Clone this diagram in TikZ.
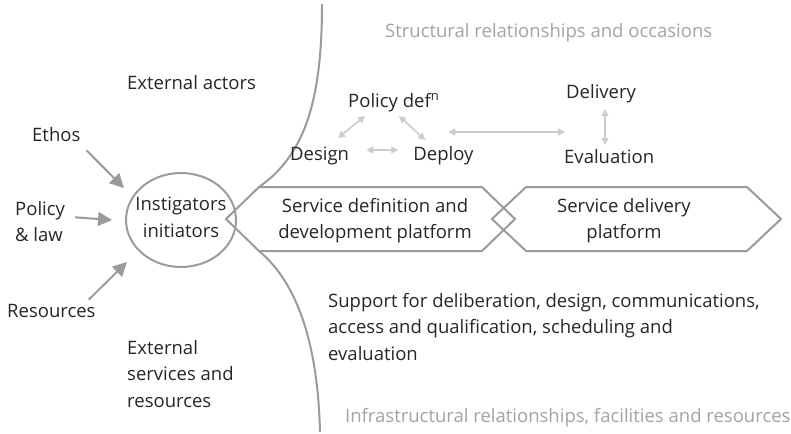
\documentclass[tikz,border=0pt]{standalone}
\usepackage{fontspec}
\setmainfont{Open Sans}[Ligatures=NoCommon]
\usepackage{xcolor}
\usetikzlibrary{positioning,shapes.geometric,arrows.meta}

\definecolor{ink}{HTML}{262626}
\definecolor{linegray}{HTML}{9B9B9B}
\definecolor{linkgray}{HTML}{CDCDCD}
\definecolor{labelgray}{HTML}{A3A3A3}

\begin{document}
\begin{tikzpicture}[x=1pt, y=-1pt,
    every node/.style={inner sep=0pt, font=\fontsize{18.5}{26.5}\selectfont, text=ink},
    txt/.style={anchor=base west, align=left},
    note/.style={anchor=base west, text=labelgray},
    frame/.style={draw=linegray, line width=2pt},
    hub/.style={ellipse, draw=linegray, line width=2pt, minimum width=110pt, minimum height=94pt},
    inarrow/.style={draw=linegray, line width=2pt, -{Triangle[length=14pt,width=14pt]}},
    link/.style={draw=linkgray, line width=1.6pt, {Triangle[length=7pt,width=7pt]}-{Triangle[length=7pt,width=7pt]}}]
    \useasboundingbox (0,0) rectangle (791,433);

    % boundary curves and platforms
    \draw[frame] (322,4) .. controls (322,100) and (305,155) .. (259,187);
    \draw[frame] (259,251) .. controls (300,285) and (318,350) .. (320,432);
    \draw[frame] (226,219) -- (259,187) -- (482,187) -- (515,219) -- (482,251) -- (259,251) -- cycle;
    \draw[frame] (492,219) -- (526,187) -- (747,187) -- (781,219) -- (747,251) -- (526,251) -- cycle;

    % multi-line nodes sit on the baseline of their last line
    \node[hub] (inst) at (181,220) {};
    \node[anchor=base, align=center] (insttxt) at (181,237) {Instigators\\initiators};
    \node[anchor=base, align=center] (sdev) at (375,238.5) {Service definition and\\development platform};
    \node[anchor=base, align=center] (sdel) at (624,238.5) {Service delivery\\platform};

    % inputs on the left
    \node[txt] (ethos) at (32,141) {Ethos};
    \node[txt] (law) at (15,241.5) {Policy\\\& law};
    \node[txt] (res) at (7,317) {Resources};
    \draw[inarrow] ([shift={(6,9)}]ethos.south east) -- ([shift={(-57,-32)}]inst.center);
    \draw[inarrow] ([shift={(10,-4)}]law.east) -- ([xshift=-13pt]inst.west);
    \draw[inarrow] ([shift={(-7,-4)}]res.north east) -- ([shift={(-54,42)}]inst.center);

    \node[txt] (extact) at (127,90) {External actors};
    \node[txt] (extsrv) at (127,407) {External\\services and\\resources};

    % design / delivery cycle
    \node[txt] (pdef) at (348,107) {Policy def\textsuperscript{n}};
    \node[txt] (des) at (290,160) {Design};
    \node[txt, base right=64pt of des] (dep) {Deploy};
    \node[txt] (del) at (566,99) {Delivery};
    \node[txt] (eva) at (564,163) {Evaluation};
    \draw[link] ([shift={(48,-22)}]des.base west) -- ([shift={(17,9)}]pdef.base west);
    \draw[link] ([shift={(51,9)}]pdef.base west) -- ([shift={(12,-20)}]dep.base west);
    \draw[link] ([shift={(17,-10)}]des.base east) -- ([shift={(-15,-10)}]dep.base west);
    \draw[link] ([shift={(35,-28)}]dep.base west) -- ([shift={(1,-31)}]eva.base west);
    \draw[link] ([shift={(39,10)}]del.base west) -- ([shift={(41,-18)}]eva.base west);

    \node[txt] (supp) at (328,360) {Support for deliberation, design, communications,\\access and qualification, scheduling and\\evaluation};

    \node[note] (struct) at (385,38) {Structural relationships and occasions};
    \node[note] (infra) at (345,422) {Infrastructural relationships, facilities and resources};
\end{tikzpicture}
\end{document}
